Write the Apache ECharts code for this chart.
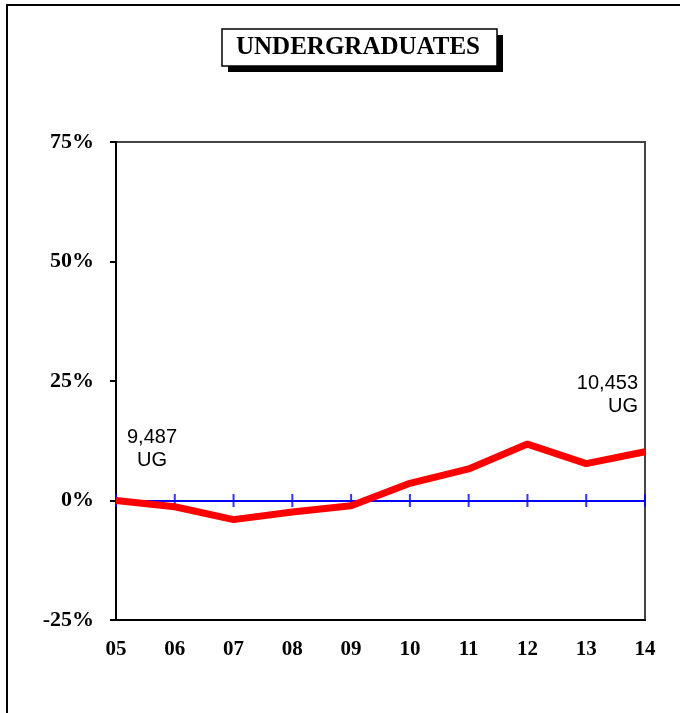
<!DOCTYPE html>
<html>
<head>
<meta charset="utf-8">
<title>Undergraduates</title>
<script src="https://cdn.jsdelivr.net/npm/echarts@6/dist/echarts.min.js"></script>
<style>
  html, body { margin: 0; padding: 0; background: #fff; }
  #chart { width: 680px; height: 713px; }
</style>
</head>
<body>
<div id="chart"></div>
<script>
// years (2005 - 2014) and % change in undergraduate headcount vs 2005
const years = ['05', '06', '07', '08', '09', '10', '11', '12', '13', '14'];
const pctChange = [0, -1.3, -4.0, -2.4, -1.1, 3.6, 6.6, 11.8, 7.7, 10.2];
const baseline = [0, 0, 0, 0, 0, 0, 0, 0, 0, 0]; // blue zero line tick marks
const yTicks = [-25, 0, 25, 50, 75];
const startLabel = '9,487\nUG';
const endLabel = '10,453\nUG';

const serif = '"Liberation Serif", "Times New Roman", serif';
const sans = '"Liberation Sans", Arial, sans-serif';

const chart = echarts.init(document.getElementById('chart'));

const lineData = pctChange.map((v, i) => {
  if (i === 0) {
    return {
      value: v,
      label: { show: true, formatter: startLabel, position: 'top', offset: [36, -24], align: 'center' }
    };
  }
  if (i === pctChange.length - 1) {
    return {
      value: v,
      label: { show: true, formatter: endLabel, position: 'top', offset: [-7, -29], align: 'right' }
    };
  }
  return v;
});

const option = {
  animation: false,
  backgroundColor: '#fff',
  grid: {
    left: 116, right: 35, top: 142, bottom: 93,
    show: true, borderColor: '#444', borderWidth: 2
  },
  graphic: [
    // outer frame (top and left edges)
    { type: 'polyline', shape: { points: [[7, 713], [7, 5], [680, 5]] }, style: { stroke: '#000', lineWidth: 2, fill: null } },
    // title box with drop shadow
    { type: 'rect', shape: { x: 228, y: 35, width: 275, height: 37 }, style: { fill: '#000' } },
    { type: 'rect', shape: { x: 222, y: 29, width: 275, height: 37 }, style: { fill: '#fff', stroke: '#000', lineWidth: 1.5 } },
    {
      type: 'text', x: 358, y: 48,
      style: {
        text: 'UNDERGRADUATES', font: 'bold 25px ' + serif,
        fill: '#000', align: 'center', verticalAlign: 'middle'
      }
    }
  ],
  xAxis: [
    {
      type: 'category', data: years, position: 'bottom', boundaryGap: false,
      axisLine: { onZero: false, lineStyle: { color: '#000', width: 2 } },
      axisTick: { show: false },
      axisLabel: { margin: 19, color: '#000', fontFamily: serif, fontWeight: 'bold', fontSize: 21 },
      splitLine: { show: false }
    },
    {
      type: 'category', data: years, position: 'top', boundaryGap: false,
      axisLine: { onZero: true, lineStyle: { color: '#0000ff', width: 2 } },
      axisTick: { show: false },
      axisLabel: { show: false },
      splitLine: { show: false }
    }
  ],
  yAxis: {
    type: 'value', min: yTicks[0], max: yTicks[yTicks.length - 1], interval: 25,
    axisLine: { show: true, lineStyle: { color: '#000', width: 2 } },
    axisTick: { show: true, length: 6, lineStyle: { color: '#000', width: 2 } },
    axisLabel: { margin: 22, formatter: '{value}%', color: '#000', fontFamily: serif, fontWeight: 'bold', fontSize: 22 },
    splitLine: { show: false }
  },
  series: [
    {
      // crossing tick marks on the zero line
      type: 'scatter',
      xAxisIndex: 1,
      data: baseline,
      symbol: 'rect',
      symbolSize: [2, 13],
      itemStyle: { color: '#0000ff' },
      silent: true,
      z: 3
    },
    {
      type: 'line',
      xAxisIndex: 0,
      data: lineData,
      symbol: 'circle',
      symbolSize: 0,
      showSymbol: true,
      lineStyle: { color: '#ff0000', width: 7 },
      itemStyle: { color: '#ff0000' },
      label: { color: '#000', fontFamily: sans, fontSize: 20, lineHeight: 23 },
      z: 5
    }
  ]
};

chart.setOption(option);
</script>
</body>
</html>
